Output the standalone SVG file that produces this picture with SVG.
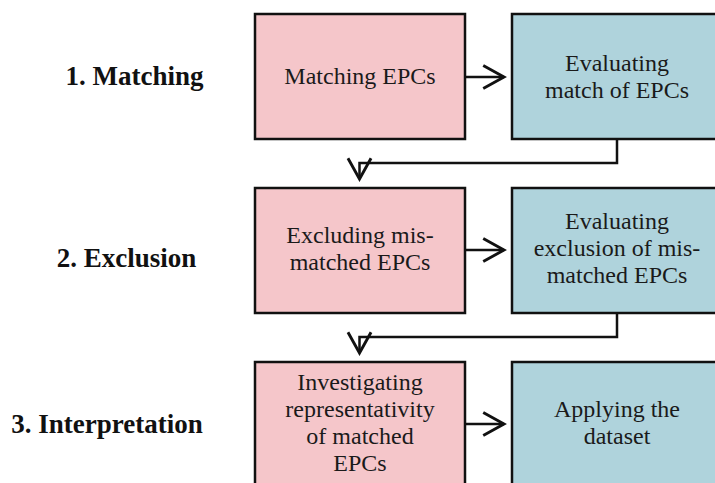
<svg xmlns="http://www.w3.org/2000/svg" width="715" height="483" viewBox="0 0 715 483">
<style>
.pink{fill:#f5c6ca;stroke:#111;stroke-width:2.5}
.blue{fill:#afd3dc;stroke:#111;stroke-width:2.5}
.t{font-family:"Liberation Serif","Times New Roman",serif;font-size:24px;fill:#1a1a1a;text-anchor:middle}
.lab{font-family:"Liberation Serif","Times New Roman",serif;font-size:27px;font-weight:bold;fill:#111;text-anchor:middle}
.c{fill:none;stroke:#111;stroke-width:2.5}
</style>
<defs>
<marker id="ah" markerUnits="userSpaceOnUse" markerWidth="30" markerHeight="30" viewBox="-22 -13 26 26" refX="0" refY="0" orient="auto">
<path d="M-18,-10 L0,0 L-18,10" fill="none" stroke="#111" stroke-width="2.5"/>
</marker>
</defs>
<rect width="715" height="483" fill="#fff"/>
<g id="labels">
<text class="lab" x="134.5" y="85">1. Matching</text>
<text class="lab" x="126.5" y="267">2. Exclusion</text>
<text class="lab" x="107" y="433">3. Interpretation</text>
</g>
<g id="connectors">
<path class="c" d="M465,77 H504" marker-end="url(#ah)"/>
<path class="c" d="M465,250 H504" marker-end="url(#ah)"/>
<path class="c" d="M465,424 H504" marker-end="url(#ah)"/>
<path class="c" d="M617,139 V163 H359.5 V179" marker-end="url(#ah)"/>
<path class="c" d="M617,313 V337 H359.5 V353" marker-end="url(#ah)"/>
</g>
<g id="n1">
<rect class="pink" x="255" y="14" width="210" height="125"/>
<text class="t" x="360" y="84">Matching EPCs</text>
</g>
<g id="n2">
<rect class="blue" x="512" y="14" width="212" height="125"/>
<text class="t" x="617" y="71">Evaluating</text>
<text class="t" x="617" y="98">match of EPCs</text>
</g>
<g id="n3">
<rect class="pink" x="255" y="188" width="210" height="125"/>
<text class="t" x="360" y="243">Excluding mis-</text>
<text class="t" x="360" y="270">matched EPCs</text>
</g>
<g id="n4">
<rect class="blue" x="512" y="188" width="212" height="125"/>
<text class="t" x="617" y="229">Evaluating</text>
<text class="t" x="617" y="256">exclusion of mis-</text>
<text class="t" x="617" y="283">matched EPCs</text>
</g>
<g id="n5">
<rect class="pink" x="255" y="362" width="210" height="130"/>
<text class="t" x="360" y="390">Investigating</text>
<text class="t" x="360" y="417">representativity</text>
<text class="t" x="360" y="444">of matched</text>
<text class="t" x="360" y="471">EPCs</text>
</g>
<g id="n6">
<rect class="blue" x="512" y="362" width="212" height="130"/>
<text class="t" x="617" y="417">Applying the</text>
<text class="t" x="617" y="444">dataset</text>
</g>
</svg>
